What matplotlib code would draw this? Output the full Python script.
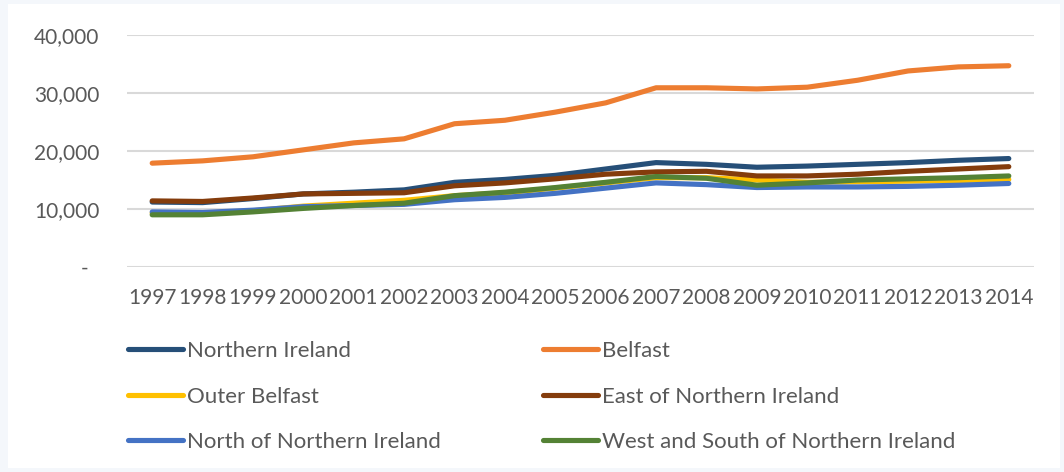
import matplotlib.pyplot as plt
from matplotlib.patches import Rectangle
from matplotlib.ticker import FuncFormatter

years = list(range(1997, 2015))

northern_ireland = [11200, 11100, 11800, 12600, 12900, 13300, 14600, 15100, 15800, 16900,
                    18000, 17700, 17200, 17400, 17700, 18000, 18400, 18700]
belfast = [17900, 18300, 19000, 20200, 21400, 22100, 24700, 25300, 26700, 28300,
           30900, 30900, 30700, 31000, 32200, 33800, 34500, 34700]
outer_belfast = [9300, 9300, 9700, 10500, 11000, 11500, 12300, 12800, 13600, 14500,
                 15400, 15400, 15000, 14600, 14700, 14800, 14900, 15100]
east_ni = [11400, 11300, 11900, 12600, 12700, 12800, 14000, 14500, 15200, 16000,
           16400, 16500, 15700, 15700, 16000, 16500, 16900, 17300]
north_ni = [9500, 9400, 9800, 10400, 10600, 10800, 11600, 12000, 12700, 13600,
            14500, 14200, 13700, 13800, 13800, 13900, 14100, 14400]
west_south_ni = [9000, 9000, 9500, 10100, 10600, 11000, 12300, 12900, 13700, 14600,
                 15600, 15300, 14100, 14500, 15000, 15200, 15400, 15700]

series = [
    ('Northern Ireland', northern_ireland, '#264f78'),
    ('Belfast', belfast, '#ed7d31'),
    ('Outer Belfast', outer_belfast, '#ffc000'),
    ('East of Northern Ireland', east_ni, '#843c0c'),
    ('North of Northern Ireland', north_ni, '#4472c4'),
    ('West and South of Northern Ireland', west_south_ni, '#548235'),
]

plt.rcParams['font.family'] = ['Lato', 'DejaVu Sans']
grey = '#595959'

fig = plt.figure(figsize=(10.64, 4.72), dpi=100, facecolor='#f4f7fb')
fig.patches.append(Rectangle((8 / 1064, 4 / 472), 1052 / 1064, 464 / 472,
                             transform=fig.transFigure, facecolor='white',
                             edgecolor='none', zorder=-10))
ax = fig.add_axes([127 / 1064, 1 - 267 / 472, 907 / 1064, 232 / 472])
ax.set_facecolor('none')

lines = {}
for name, vals, col in series:
    lines[name], = ax.plot(years, vals, color=col, lw=3.7, solid_capstyle='round', label=name)

ax.set_xlim(1996.5, 2014.5)
ax.set_ylim(0, 40000)
ax.set_yticks([0, 10000, 20000, 30000, 40000])
ax.yaxis.set_major_formatter(FuncFormatter(lambda v, p: '-  ' if v == 0 else f'{int(v):,}'))
ax.set_xticks(years)
ax.set_xticklabels([str(y) for y in years])
ax.grid(axis='y', color='#d9d9d9', lw=1.5)
ax.set_axisbelow(True)
for s in ax.spines.values():
    s.set_visible(False)
ax.tick_params(axis='y', length=0, pad=20, labelsize=15, labelcolor=grey)
ax.tick_params(axis='x', length=0, pad=15, labelsize=15, labelcolor=grey)

order = ['Northern Ireland', 'Outer Belfast', 'North of Northern Ireland',
         'Belfast', 'East of Northern Ireland', 'West and South of Northern Ireland']
leg = fig.legend([lines[n] for n in order], order, ncol=2, loc='upper left',
                 bbox_to_anchor=(128 / 1064, 1 - 341 / 472), frameon=False,
                 fontsize=16, handlelength=2.48, handletextpad=0.18,
                 columnspacing=4.6, labelspacing=1.15, borderpad=0, borderaxespad=0)
for t in leg.get_texts():
    t.set_color(grey)

fig.savefig('out.png', dpi=100, facecolor=fig.get_facecolor())
